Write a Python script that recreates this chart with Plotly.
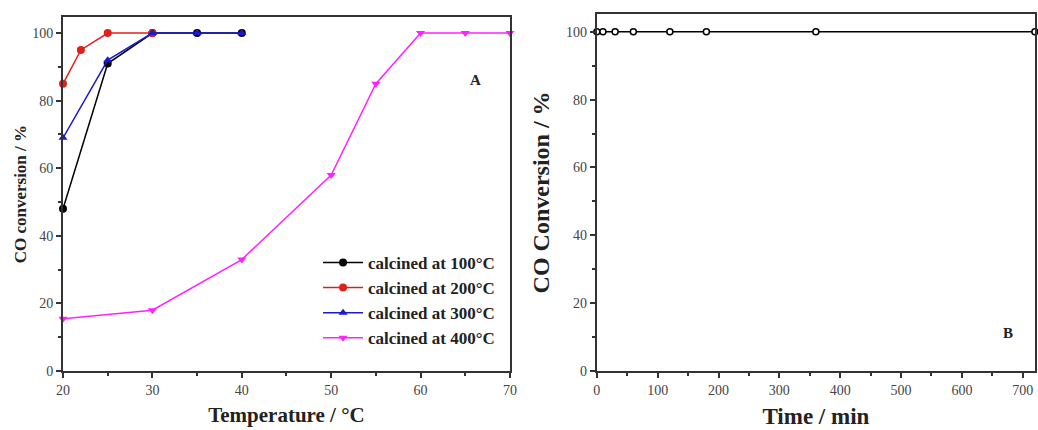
import plotly.graph_objects as go

# Panel A data
temp_100 = [20, 25, 30, 35, 40]
conv_100 = [48, 91, 100, 100, 100]
temp_200 = [20, 22, 25, 30]
conv_200 = [85, 95, 100, 100]
temp_300 = [20, 25, 30, 35, 40]
conv_300 = [69, 92, 100, 100, 100]
temp_400 = [20, 30, 40, 50, 55, 60, 65, 70]
conv_400 = [15.5, 18, 33, 58, 85, 100, 100, 100]

# Panel B data
time_min = [0, 10, 30, 60, 120, 180, 360, 720]
conv_time = [100, 100, 100, 100, 100, 100, 100, 100]

legend_names = ["calcined at 100°C", "calcined at 200°C", "calcined at 300°C", "calcined at 400°C"]

SERIF = "Liberation Serif"
fig = go.Figure()

series = [
    (temp_100, conv_100, "black", "circle"),
    (temp_200, conv_200, "#e0201b", "circle"),
    (temp_300, conv_300, "#1a1acc", "triangle-up"),
    (temp_400, conv_400, "#ff22ff", "triangle-down"),
]
for (xs, ys, col, sym), name in zip(series, legend_names):
    fig.add_trace(go.Scatter(
        x=xs, y=ys, mode="lines+markers", name=name,
        line=dict(color=col, width=1.5),
        marker=dict(color=col, symbol=sym, size=8),
        xaxis="x", yaxis="y", cliponaxis=False,
    ))

fig.add_trace(go.Scatter(
    x=time_min, y=conv_time, mode="lines+markers", showlegend=False,
    line=dict(color="black", width=1.5),
    marker=dict(color="white", symbol="circle", size=6, line=dict(color="black", width=1.5)),
    xaxis="x2", yaxis="y2", cliponaxis=False,
))

axis_common = dict(
    showline=True, linecolor="#333", linewidth=2, mirror=True,
    ticks="outside", ticklen=5, tickwidth=1.5, tickcolor="#333",
    showgrid=False, zeroline=False, automargin=False,
    tickfont=dict(family=SERIF, size=14, color="#444"),
)

fig.update_layout(
    width=1038, height=430,
    margin=dict(l=0, r=0, t=0, b=0),
    paper_bgcolor="white", plot_bgcolor="white",
    xaxis=dict(domain=[0.0607, 0.4913], range=[20, 70], dtick=10, anchor="y",
               minor=dict(ticks="outside", ticklen=3, dtick=5, tickcolor="#333"),
               title=dict(text="<b>Temperature / °C</b>", font=dict(family=SERIF, size=21, color="#222"), standoff=10),
               **axis_common),
    yaxis=dict(domain=[0.137, 0.96], range=[0, 104.7], dtick=20, anchor="x",
               minor=dict(ticks="outside", ticklen=3, dtick=10, tickcolor="#333"),
               title=dict(text="<b>CO conversion / %</b>", font=dict(family=SERIF, size=17, color="#222"), standoff=1),
               **axis_common),
    xaxis2=dict(domain=[0.575, 0.997], range=[0, 720], dtick=100, anchor="y2",
                minor=dict(ticks="outside", ticklen=3, dtick=50, tickcolor="#333"),
                title=dict(text="<b>Time / min</b>", font=dict(family=SERIF, size=23, color="#222"), standoff=11),
                **axis_common),
    yaxis2=dict(domain=[0.137, 0.968], range=[0, 105.3], dtick=20, anchor="x2",
                minor=dict(ticks="outside", ticklen=3, dtick=10, tickcolor="#333"),
                title=dict(text="<b>CO Conversion / %</b>", font=dict(family=SERIF, size=24, color="#222"), standoff=10),
                **axis_common),
    legend=dict(x=0.3064, y=0.4304, xanchor="left", yanchor="top",
                bgcolor="rgba(0,0,0,0)", itemwidth=40,
                font=dict(family=SERIF, size=17, color="#222", weight="bold")),
    annotations=[
        dict(text="<b>A</b>", x=0.4577, y=0.8374, xref="paper", yref="paper", showarrow=False,
             font=dict(family=SERIF, size=15, color="#222")),
        dict(text="<b>B</b>", x=0.9777, y=0.2024, xref="paper", yref="paper", showarrow=False,
             font=dict(family=SERIF, size=15, color="#222")),
    ],
)

fig.write_html("out.html", config={"displayModeBar": False},
               post_script="document.body.style.margin='0';document.body.style.overflow='hidden';")
